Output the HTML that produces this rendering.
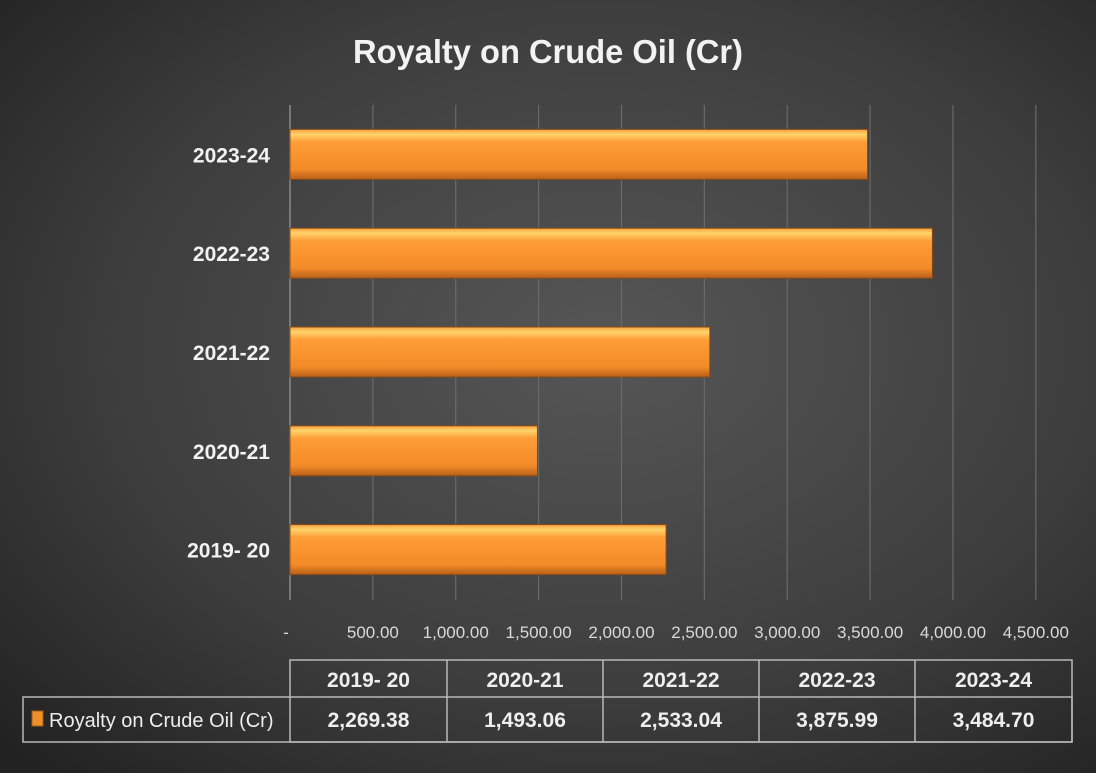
<!DOCTYPE html>
<html><head><meta charset="utf-8"><style>
body{margin:0;width:1096px;height:773px;overflow:hidden;background:#333}
svg{display:block;font-family:"Liberation Sans",sans-serif}
</style></head><body>
<svg id="c" width="1096" height="773" viewBox="0 0 1096 773">
<defs>
<radialGradient id="bg" cx="0.55" cy="0.45" r="0.75">
<stop offset="0" stop-color="#565656"/><stop offset="0.6" stop-color="#3d3d3d"/><stop offset="1" stop-color="#222"/>
</radialGradient>
<linearGradient id="bar" x1="0" y1="0" x2="0" y2="1">
<stop offset="0" stop-color="#f5a040"/><stop offset="0.1" stop-color="#ffd36a"/><stop offset="0.25" stop-color="#ff9e38"/><stop offset="0.8" stop-color="#f28a28"/><stop offset="1" stop-color="#b9601a"/>
</linearGradient>
</defs>
<rect width="1096" height="773" fill="url(#bg)"/>
<text x="548" y="63" text-anchor="middle" font-size="33" font-weight="bold" fill="#f2f2f2" textLength="390" lengthAdjust="spacingAndGlyphs">Royalty on Crude Oil (Cr)</text>
<g id="grid"></g><g id="bars"></g><g id="ylab"></g><g id="xlab"></g><g id="table"></g>
</svg>
<script>
const categories=["2019- 20","2020-21","2021-22","2022-23","2023-24"];
const values=[2269.38,1493.06,2533.04,3875.99,3484.70];
const valueLabels=["2,269.38","1,493.06","2,533.04","3,875.99","3,484.70"];
const ticks=[0,500,1000,1500,2000,2500,3000,3500,4000,4500];
const tickLabels=["-","500.00","1,000.00","1,500.00","2,000.00","2,500.00","3,000.00","3,500.00","4,000.00","4,500.00"];
const NS="http://www.w3.org/2000/svg";
const x0=290,pxPer=0.16574,plotTop=105,band=98.8;
const xs=v=>x0+v*pxPer;
const yc=i=>plotTop+(categories.length-1-i+0.5)*band;
function mk(t,a,p,txt){const e=document.createElementNS(NS,t);for(const k in a)e.setAttribute(k,a[k]);if(txt!=null)e.textContent=txt;document.getElementById(p).appendChild(e);return e;}
ticks.forEach((t,i)=>{
 if(i>0){const l=mk("line",{x1:xs(t),x2:xs(t),y1:plotTop,y2:600,stroke:"#6a6a6a","stroke-width":1.2},"grid");
 
 }
 const tx=mk("text",{x:xs(t)+(i==0?-4:0),y:638,"text-anchor":"middle","font-size":17,fill:"#d9d9d9"},"xlab",tickLabels[i]);
 
 
});
const ax=mk("line",{x1:x0,x2:x0,y1:plotTop,y2:600,stroke:"#8a8a8a","stroke-width":1.5},"grid");


values.forEach((v,i)=>{
 const h=50,y=yc(i)-h/2;
 const r=mk("rect",{x:x0,y:y,width:xs(v)-x0,height:h,fill:"url(#bar)",stroke:"#8a4a14","stroke-width":1},"bars");
 
 
 const lb=mk("text",{x:270,y:yc(i)+8,"text-anchor":"end","font-size":21,"font-weight":"bold",fill:"#f2f2f2"},"ylab",categories[i]);
 
 
});
const cols=[290,447,603,759,915,1072];
const st={stroke:"#b8b8b8","stroke-width":1.5,fill:"none"};
let t=mk("rect",Object.assign({x:290,y:660,width:782,height:82},st),"table");


t=mk("rect",Object.assign({x:23,y:697,width:1049,height:45},st),"table");


for(let i=1;i<5;i++){const l=mk("line",{x1:cols[i],x2:cols[i],y1:660,y2:742,stroke:"#b8b8b8","stroke-width":1.5},"table");
 
 }
categories.forEach((c,i)=>{
 const cx=(cols[i]+cols[i+1])/2;
 const a=mk("text",{x:cx,y:687,"text-anchor":"middle","font-size":21,"font-weight":"bold",fill:"#eee"},"table",c);
 
 
 const b=mk("text",{x:cx,y:727,"text-anchor":"middle","font-size":21,"font-weight":"bold",fill:"#eee"},"table",valueLabels[i]);
 
 
});
const k=mk("rect",{x:32,y:711,width:11,height:15,fill:"#f0902a",stroke:"#a85a18"},"table");


const lt=mk("text",{x:49,y:727,"font-size":20,fill:"#eee"},"table","Royalty on Crude Oil (Cr)");


</script>
</body></html>
